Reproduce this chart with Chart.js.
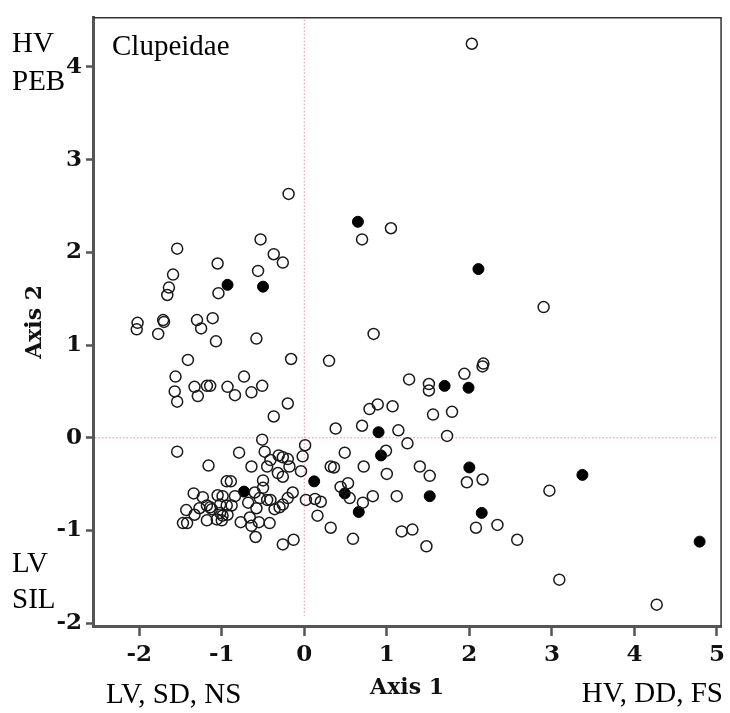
<!DOCTYPE html>
<html>
<head>
<meta charset="utf-8">
<script src="https://cdn.jsdelivr.net/npm/chart.js@4.4.0/dist/chart.umd.min.js"></script>
<style>
  html, body { margin: 0; padding: 0; background: #fff; }
  #wrap { width: 730px; height: 713px; position: relative; }
</style>
</head>
<body>
<div id="wrap"><canvas id="ordination"></canvas></div>
<script>
// tick values on both axes
const xTicks = [-2, -1, 0, 1, 2, 3, 4, 5];
const yTicks = [-2, -1, 0, 1, 2, 3, 4];

// open circles (other sites)
const openX = [
  2.03, -0.19, 1.05, 0.70, -0.53, -0.37, -0.26, -1.54, -1.05, -0.56,
  -1.59, -1.64, -1.66, -1.04, -2.02, -2.03, -1.77, -1.71, -1.70, -1.30,
  -1.25, -1.11, -1.07, -0.58, -1.41, -0.16, 0.30, 2.90, 0.84, 2.17,
  -1.56, -1.33, -1.18, -1.14, -0.93, -0.73, -0.51, -1.57, -1.54, -1.29,
  -0.84, -0.64, -0.20, -0.37, -0.51, 1.27, 1.51, 1.51, 1.94, 2.16,
  0.79, 0.89, 1.07, 1.56, 1.79, 0.38, 0.70, 1.14, 1.73, 0.01,
  1.25, -0.02, -0.04, 0.49, 0.99, 0.32, 0.36, 0.72, 1.00, 1.40,
  1.52, 1.97, 2.16, 0.44, 0.53, 0.55, 0.83, 0.71, 1.12, 0.02,
  0.13, 0.20, 0.16, 0.32, 0.59, 1.18, 1.31, 1.48, 2.08, 2.34,
  2.58, 2.97, 3.09, 4.27,
  -1.54, -1.16, -0.79, -0.48, -0.64, -0.45, -0.41, -0.31, -0.26, -0.20,
  -0.18, -0.32, -0.26, -0.50, -0.50, -0.60, -0.94, -0.89, -1.05, -0.99,
  -1.23, -1.34, -1.43, -1.33, -1.27, -1.14, -1.18, -1.12, -1.02, -0.94,
  -0.88, -1.02, -0.99, -0.93, -1.06, -1.00, -1.18, -1.47, -1.42, -0.77,
  -0.66, -0.64, -0.59, -0.55, -0.42, -0.68, -0.54, -0.45, -0.41, -0.36,
  -0.30, -0.26, -0.20, -0.14, -0.58, -0.26, -0.13, -0.84
];
const openY = [
  4.25, 2.63, 2.26, 2.14, 2.14, 1.98, 1.89, 2.04, 1.88, 1.80,
  1.76, 1.62, 1.54, 1.56, 1.24, 1.17, 1.12, 1.27, 1.25, 1.27,
  1.18, 1.29, 1.04, 1.07, 0.84, 0.85, 0.83, 1.41, 1.12, 0.80,
  0.66, 0.55, 0.56, 0.56, 0.55, 0.66, 0.56, 0.50, 0.39, 0.45,
  0.46, 0.49, 0.37, 0.23, -0.02, 0.63, 0.58, 0.51, 0.69, 0.77,
  0.31, 0.36, 0.34, 0.25, 0.28, 0.10, 0.13, 0.08, 0.02, -0.08,
  -0.06, -0.20, -0.36, -0.16, -0.14, -0.31, -0.32, -0.31, -0.39, -0.31,
  -0.41, -0.48, -0.45, -0.53, -0.49, -0.65, -0.63, -0.70, -0.63, -0.67,
  -0.66, -0.69, -0.84, -0.97, -1.09, -1.01, -0.99, -1.17, -0.97, -0.94,
  -1.10, -0.57, -1.53, -1.80,
  -0.15, -0.30, -0.16, -0.15, -0.31, -0.31, -0.24, -0.19, -0.21, -0.23,
  -0.31, -0.38, -0.42, -0.46, -0.54, -0.59, -0.47, -0.47, -0.62, -0.63,
  -0.64, -0.60, -0.78, -0.83, -0.76, -0.75, -0.73, -0.77, -0.72, -0.73,
  -0.73, -0.81, -0.84, -0.83, -0.88, -0.89, -0.89, -0.92, -0.92, -0.91,
  -0.86, -0.95, -1.07, -0.91, -0.92, -0.70, -0.65, -0.67, -0.67, -0.77,
  -0.75, -0.72, -0.65, -0.59, -0.76, -1.15, -1.10, -0.63
];

// filled circles (Clupeidae present)
const filledX = [0.65, 2.11, -0.93, -0.50, 1.70, 1.99, 0.90, 0.93, 0.12, -0.73, 0.49, 0.66, 1.52, 2.00, 2.15, 3.37, 4.79];
const filledY = [2.33, 1.82, 1.65, 1.63, 0.56, 0.54, 0.06, -0.19, -0.47, -0.58, -0.60, -0.80, -0.63, -0.32, -0.81, -0.40, -1.12];

const toPoints = (xs, ys) => xs.map((x, i) => ({ x: x, y: ys[i] }));

// frame on top/right + dotted zero lines + corner notes
const decorations = {
    id: 'decorations',
    beforeDatasetsDraw(chart) {
        const { ctx, chartArea: a, scales: { x, y } } = chart;
        const x0 = x.getPixelForValue(0);
        const y0 = y.getPixelForValue(0);
        ctx.save();
        ctx.strokeStyle = '#f28aa0';
        ctx.lineWidth = 1;
        ctx.setLineDash([1.5, 2]);
        ctx.beginPath();
        ctx.moveTo(x0, a.top + 2);
        ctx.lineTo(x0, y.getPixelForValue(-1.92));
        ctx.moveTo(a.left + 2, y0);
        ctx.lineTo(a.right - 4, y0);
        ctx.stroke();
        ctx.restore();
    },
    afterDraw(chart) {
        const { ctx, chartArea: a } = chart;
        ctx.save();
        ctx.strokeStyle = '#333';
        ctx.lineWidth = 1.5;
        ctx.beginPath();
        ctx.moveTo(a.left, a.top);
        ctx.lineTo(a.right, a.top);
        ctx.lineTo(a.right, a.bottom);
        ctx.stroke();

        ctx.fillStyle = '#000';
        ctx.font = '29px "Liberation Serif", "Times New Roman", serif';
        ctx.textBaseline = 'alphabetic';
        ctx.textAlign = 'left';
        ctx.fillText('HV', 12, 52);
        ctx.fillText('PEB', 12, 90);
        ctx.fillText('Clupeidae', 112, 55);
        ctx.fillText('LV', 12, 572);
        ctx.fillText('SIL', 12, 608);
        ctx.fillText('LV, SD, NS', 106, 703);
        ctx.textAlign = 'right';
        ctx.fillText('HV, DD, FS', 723, 702);
        ctx.restore();
    }
};

const tickFont = { family: '"DejaVu Serif", serif', size: 23, weight: 'bold' };

new Chart(document.getElementById('ordination'), {
    type: 'scatter',
    data: {
        datasets: [
            {
                label: 'other',
                data: toPoints(openX, openY),
                pointStyle: 'circle',
                pointRadius: 5.5,
                borderWidth: 1.5,
                borderColor: '#1a1a1a',
                backgroundColor: 'rgba(0,0,0,0)'
            },
            {
                label: 'Clupeidae',
                data: toPoints(filledX, filledY),
                pointStyle: 'circle',
                pointRadius: 5.5,
                borderWidth: 1,
                borderColor: '#000',
                backgroundColor: '#000'
            }
        ]
    },
    options: {
        responsive: true,
        maintainAspectRatio: false,
        animation: false,
        layout: { padding: { top: 7, right: 8, left: 0, bottom: 0 } },
        plugins: {
            legend: { display: false },
            tooltip: { enabled: false }
        },
        scales: {
            x: {
                type: 'linear',
                min: -2.56,
                max: 5.05,
                afterBuildTicks: (scale) => { scale.ticks = xTicks.map(v => ({ value: v })); },
                afterFit: (scale) => { scale.height = 87; },
                grid: { drawOnChartArea: false, drawTicks: true, tickLength: 10, tickColor: '#555', tickWidth: 2.5 },
                border: { display: true, color: '#555', width: 3 },
                ticks: { color: '#111', font: tickFont, padding: 5 },
                title: { display: true, text: 'Axis 1', color: '#111', font: { family: '"DejaVu Serif", serif', size: 22, weight: 'bold' }, padding: { top: 0, bottom: 12 } }
            },
            y: {
                type: 'linear',
                min: -2.03,
                max: 4.53,
                afterBuildTicks: (scale) => { scale.ticks = yTicks.map(v => ({ value: v })); },
                afterFit: (scale) => { scale.width = 93; },
                grid: { drawOnChartArea: false, drawTicks: true, tickLength: 7, tickColor: '#555', tickWidth: 2.5 },
                border: { display: true, color: '#555', width: 3 },
                ticks: { color: '#111', font: tickFont, padding: 4 },
                title: { display: true, text: 'Axis 2', color: '#111', font: { family: '"DejaVu Serif", serif', size: 22, weight: 'bold' }, padding: { top: 22, bottom: 0 } }
            }
        }
    },
    plugins: [decorations]
});
</script>
</body>
</html>
